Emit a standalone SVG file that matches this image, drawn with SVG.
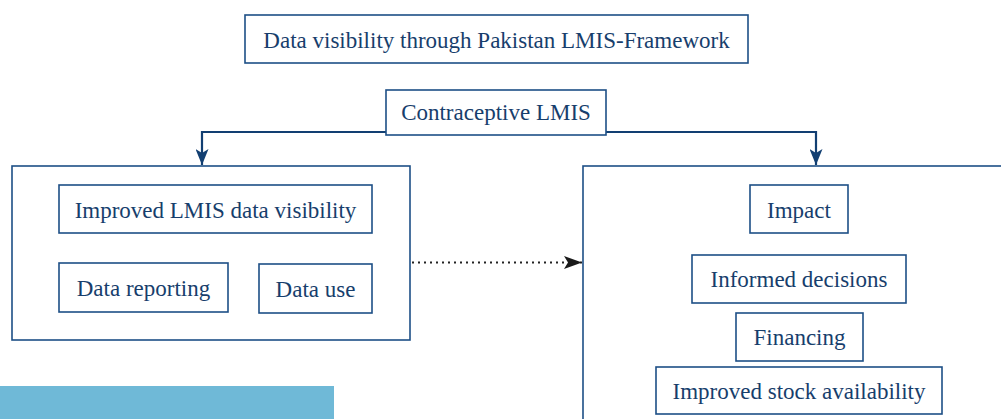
<svg xmlns="http://www.w3.org/2000/svg" width="1001" height="419" viewBox="0 0 1001 419">
<style>
.box{fill:#fff;stroke:#1d4f86;stroke-width:1.6}
.t{font-family:"Liberation Serif","DejaVu Serif",serif;font-size:23px;fill:#173e6c;text-anchor:middle;dominant-baseline:central}
.con{fill:none;stroke:#123f72;stroke-width:2.2}
.dot{fill:none;stroke:#222;stroke-width:2;stroke-dasharray:2 4}
</style>
<defs>
<marker id="ah" markerUnits="userSpaceOnUse" markerWidth="13" markerHeight="17" refX="6.5" refY="16" orient="0" viewBox="0 0 13 17">
<path d="M0,0 L6.5,4 L13,0 L6.5,16 Z" fill="#123f72"/>
</marker>
<marker id="ad" markerUnits="userSpaceOnUse" markerWidth="18" markerHeight="13" refX="18" refY="6.5" orient="auto" viewBox="0 0 18 13">
<path d="M0,0 L18,6.5 L0,13 L4,6.5 Z" fill="#1a1a1a"/>
</marker>
</defs>
<rect x="0" y="386" width="334" height="33" fill="#6fb9d7"/>
<g id="connectors">
<path class="con" d="M386,132 H202 V165" marker-end="url(#ah)"/>
<path class="con" d="M606,132 H816 V165" marker-end="url(#ah)"/>
<path class="dot" d="M412,262.5 H582" marker-end="url(#ad)"/>
</g>
<g id="left-group"><rect class="box" x="12" y="166" width="398" height="174"/></g>
<g id="right-group"><rect class="box" x="583" y="166" width="430" height="270"/></g>
<g id="title"><rect class="box" x="245" y="15" width="503" height="48"/><text class="t" x="496.5" y="40">Data visibility through Pakistan LMIS-Framework</text></g>
<g id="contraceptive"><rect class="box" x="386" y="90" width="220" height="45"/><text class="t" x="496" y="112.5">Contraceptive LMIS</text></g>
<g id="improved-visibility"><rect class="box" x="59" y="185" width="313" height="48"/><text class="t" x="215.5" y="210">Improved LMIS data visibility</text></g>
<g id="data-reporting"><rect class="box" x="59" y="263" width="169" height="49"/><text class="t" x="143.5" y="288">Data reporting</text></g>
<g id="data-use"><rect class="box" x="259" y="264" width="113" height="49"/><text class="t" x="315.5" y="289.5">Data use</text></g>
<g id="impact"><rect class="box" x="750" y="185" width="98" height="48"/><text class="t" x="799" y="210">Impact</text></g>
<g id="informed-decisions"><rect class="box" x="692" y="255" width="214" height="48"/><text class="t" x="799" y="279.5">Informed decisions</text></g>
<g id="financing"><rect class="box" x="736" y="313" width="127" height="48"/><text class="t" x="799.5" y="337.5">Financing</text></g>
<g id="improved-stock"><rect class="box" x="656" y="367" width="286" height="47"/><text class="t" x="799" y="391">Improved stock availability</text></g>
</svg>
